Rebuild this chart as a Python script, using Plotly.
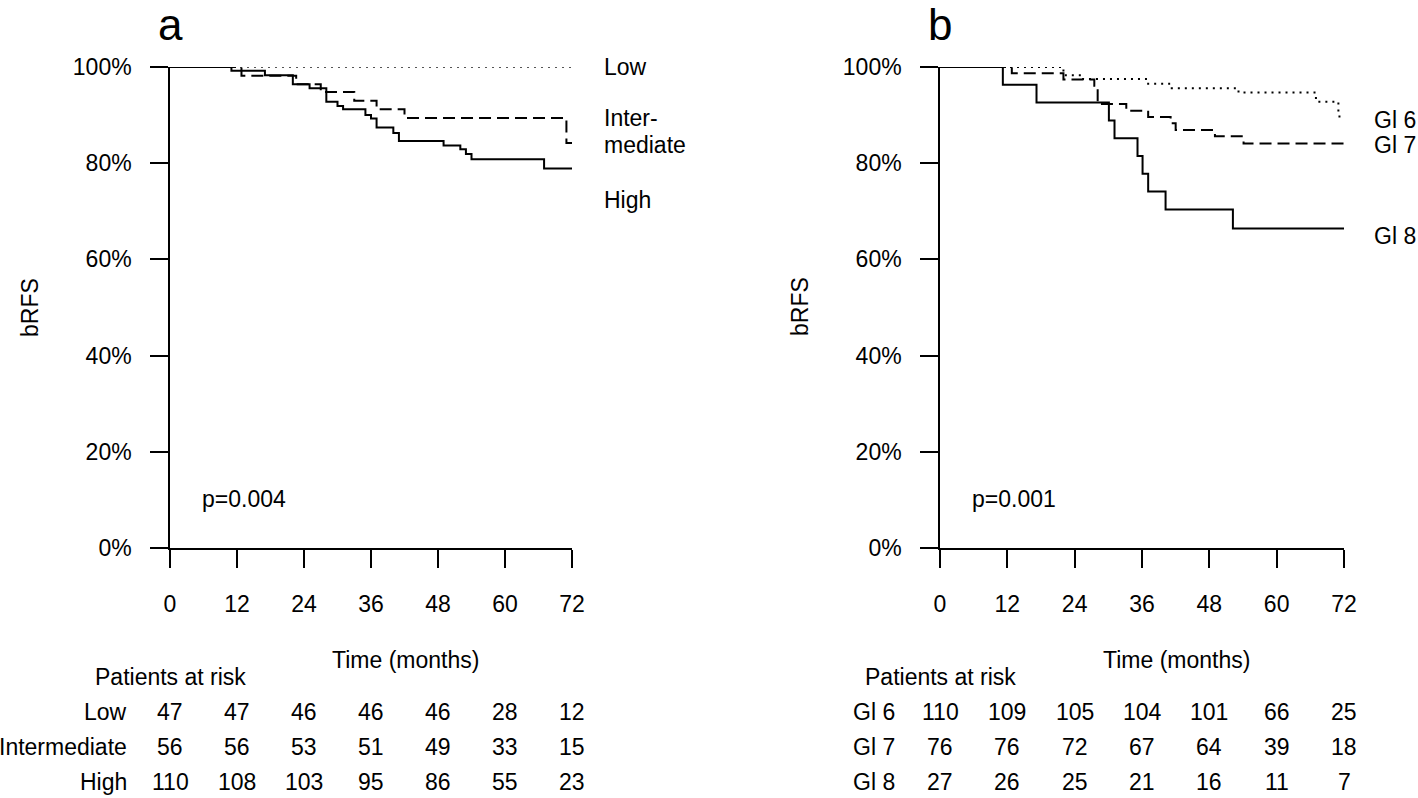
import plotly.graph_objects as go

W, H = 1418, 798
FONT = "Liberation Sans, Arial, sans-serif"
FS = 23

# ---------------- data ----------------
time_ticks = [0, 12, 24, 36, 48, 60, 72]
pct_ticks = [0, 20, 40, 60, 80, 100]
pct_labels = ["0%", "20%", "40%", "60%", "80%", "100%"]

# panel a: risk groups
low_t = [0, 72]
low_s = [100, 100]
int_t = [0, 12.8, 22.6, 27, 33, 37, 42, 71, 72]
int_s = [100, 98.2, 96.4, 94.8, 93.0, 91.2, 89.4, 84.2, 84.2]
high_t = [0, 11, 17, 22, 25, 28, 30, 31, 35, 36, 37, 40, 41, 49, 52, 53, 54, 67, 72]
high_s = [100, 99.2, 98.3, 96.4, 95.6, 92.8, 91.9, 91.2, 90.0, 89.3, 87.4, 86.3, 84.6,
          83.7, 82.9, 81.9, 80.8, 78.9, 78.9]

# panel b: Gleason groups
gi6_t = [0, 22, 25.5, 37.1, 41.3, 53.2, 67, 71, 72]
gi6_s = [100, 98.3, 97.5, 96.5, 95.6, 94.7, 92.8, 89.7, 89.7]
gi7_t = [0, 12.8, 22, 27.5, 28.1, 33.2, 37.1, 41.1, 42, 49, 54.1, 72]
gi7_s = [100, 98.7, 97.4, 96.1, 92.3, 90.9, 89.6, 88.3, 86.9, 85.6, 84.1, 84.1]
gi8_t = [0, 11.2, 17.2, 30.1, 31.1, 35.2, 36.1, 37.1, 40.2, 52.2, 72]
gi8_s = [100, 96.3, 92.6, 88.9, 85.2, 81.5, 77.8, 74.1, 70.4, 66.4, 66.4]

risk_a_labels = ["Low", "Intermediate", "High"]
risk_a = [
    [47, 47, 46, 46, 46, 28, 12],
    [56, 56, 53, 51, 49, 33, 15],
    [110, 108, 103, 95, 86, 55, 23],
]
risk_b_labels = ["Gl 6", "Gl 7", "Gl 8"]
risk_b = [
    [110, 109, 105, 104, 101, 66, 25],
    [76, 76, 72, 67, 64, 39, 18],
    [27, 26, 25, 21, 16, 11, 7],
]
p_a = "p=0.004"
p_b = "p=0.001"

# ---------------- layout helpers ----------------
def px(x):
    return x / W

def py(y):
    return 1 - y / H

Y_TOP, Y_BOT = 67, 548
A_L, A_R = 170, 572
B_L, B_R = 940, 1344

fig = go.Figure()

def add_curve(t, s, xa, ya, dash, width, color):
    fig.add_trace(go.Scatter(x=t, y=s, mode="lines", line=dict(shape="hv", dash=dash, width=width, color=color),
                             xaxis=xa, yaxis=ya, showlegend=False, hoverinfo="skip"))

add_curve(low_t, low_s, "x", "y", "2px,5px", 2, "#555")
add_curve(int_t, int_s, "x", "y", "12px,6px", 2, "black")
add_curve(high_t, high_s, "x", "y", "solid", 2, "black")

add_curve(gi6_t, gi6_s, "x2", "y2", "2px,5px", 2, "black")
add_curve(gi7_t, gi7_s, "x2", "y2", "12px,6px", 2, "black")
add_curve(gi8_t, gi8_s, "x2", "y2", "solid", 2, "black")

def xaxis(dom, anchor):
    return dict(domain=dom, range=[0, 72], tickmode="array", tickvals=time_ticks,
                ticktext=[str(t) for t in time_ticks], ticks="outside", ticklen=18,
                tickwidth=1.5, tickcolor="black", showline=True, linewidth=1.5, linecolor="black",
                showgrid=False, zeroline=False, tickfont=dict(size=FS, color="black", family=FONT),
                ticklabelstandoff=17, anchor=anchor, fixedrange=True, automargin=False)

def yaxis(anchor):
    return dict(domain=[py(Y_BOT), py(Y_TOP)], range=[0, 100], tickmode="array", tickvals=pct_ticks,
                ticktext=pct_labels, ticks="outside", ticklen=18, tickwidth=1.5, tickcolor="black",
                showline=True, linewidth=1.5, linecolor="black", showgrid=False, zeroline=False,
                tickfont=dict(size=FS, color="black", family=FONT), ticklabelstandoff=14,
                anchor=anchor, fixedrange=True, automargin=False)

ann = []

def text(x, y, s, xanchor="center", size=FS, xref="paper", textangle=0):
    ann.append(dict(x=x, y=py(y), xref=xref, yref="paper", text=s, showarrow=False,
                    xanchor=xanchor, yanchor="middle", textangle=textangle,
                    font=dict(size=size, color="black", family=FONT)))

# panel letters
text(px(A_L), 25, "a", size=44)
text(px(B_L), 25, "b", size=44)

# y titles
text(px(30), 307, "bRFS", textangle=-90)
text(px(800), 307, "bRFS", textangle=-90)

# x titles
text(px(405), 660, "Time (months)")
text(px(1176), 660, "Time (months)")

# p values
text(px(200), 499, p_a, xanchor="left")
text(px(970), 499, p_b, xanchor="left")

# curve labels
text(px(602), 67, "Low", xanchor="left")
text(px(602), 118, "Inter-", xanchor="left")
text(px(602), 145, "mediate", xanchor="left")
text(px(602), 200, "High", xanchor="left")
text(px(1372), 120, "Gl 6", xanchor="left")
text(px(1372), 145, "Gl 7", xanchor="left")
text(px(1372), 236, "Gl 8", xanchor="left")

# risk tables
text(0, 677, "Patients at risk", xref="x")
text(0, 677, "Patients at risk", xref="x2")
row_y = [712, 747, 782]
for lab, vals, yy in zip(risk_a_labels, risk_a, row_y):
    text(px(129), yy, lab, xanchor="right")
    for t, v in zip(time_ticks, vals):
        text(t, yy, str(v), xref="x")
for lab, vals, yy in zip(risk_b_labels, risk_b, row_y):
    text(px(897), yy, lab, xanchor="right")
    for t, v in zip(time_ticks, vals):
        text(t, yy, str(v), xref="x2")

fig.update_layout(
    width=W, height=H, margin=dict(l=0, r=0, t=0, b=0, pad=0, autoexpand=False),
    paper_bgcolor="white", plot_bgcolor="white",
    font=dict(family=FONT, size=FS, color="black"),
    xaxis=xaxis([px(A_L), px(A_R)], "y"),
    yaxis=yaxis("x"),
    xaxis2=xaxis([px(B_L), px(B_R)], "y2"),
    yaxis2=yaxis("x2"),
    annotations=ann,
    showlegend=False,
)

fig.write_html(
    "out.html",
    config={"displayModeBar": False},
    post_script="document.body.style.margin='0';document.body.style.overflow='hidden';",
)
